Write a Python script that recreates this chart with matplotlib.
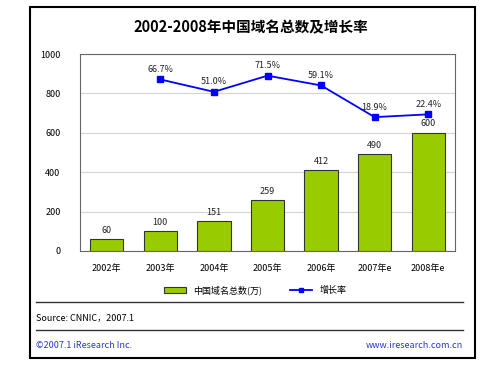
import matplotlib
matplotlib.use('Agg')
import matplotlib.pyplot as plt
from matplotlib.patches import Rectangle
from matplotlib.lines import Line2D

plt.rcParams['font.family'] = ['Noto Sans CJK SC', 'DejaVu Sans']

years = ['2002年', '2003年', '2004年', '2005年', '2006年', '2007年e', '2008年e']
domains = [60, 100, 151, 259, 412, 490, 600]
growth_years = [1, 2, 3, 4, 5, 6]
growth = [66.7, 51.0, 71.5, 59.1, 18.9, 22.4]

W, H = 500, 378
fig = plt.figure(figsize=(W / 100, H / 100), dpi=100)

def fx(px):
    return px / W

def fy(py):
    return 1 - py / H

# outer frame
fig.patches.append(Rectangle((fx(30), fy(358)), fx(445), 351 / H, transform=fig.transFigure,
                             fill=False, edgecolor='black', linewidth=1.5))

fig.text(fx(251), fy(27), '2002-2008年中国域名总数及增长率', ha='center', va='center',
         fontsize=10.5, fontweight='bold')

ax = fig.add_axes([fx(80), fy(251), fx(375), (251 - 54) / H])
x = range(len(years))
bars = ax.bar(x, domains, width=0.62, color='#99CC00', edgecolor='#333333', linewidth=0.8, zorder=3)
for xi, v in zip(x, domains):
    ax.text(xi, v + 22, str(v), ha='center', va='bottom', fontsize=6.5, color='#222222')

ax.set_xlim(-0.5, 6.5)
ax.set_ylim(0, 1000)
ax.set_yticks(range(0, 1001, 200))
ax.tick_params(axis='y', labelsize=6.5, length=0, pad=14)
ax.set_xticks(list(x))
ax.set_xticklabels(years, fontsize=6.5)
ax.tick_params(axis='x', length=0, pad=9)
ax.grid(True, axis='y', color='#d4d4d4', linewidth=0.8, zorder=0)
for s in ax.spines.values():
    s.set_color('#666666')
    s.set_linewidth(0.8)

ax2 = ax.twinx()
ax2.plot(growth_years, growth, color='#0000FF', linewidth=1.3, marker='s', markersize=4, zorder=4)
for xi, g in zip(growth_years, growth):
    ax2.text(xi, g + 7, f'{g:.1f}%', ha='center', va='bottom', fontsize=6.5, color='#222222')
ax2.set_ylim(-151, 99)
ax2.set_yticks([])
for s in ax2.spines.values():
    s.set_visible(False)

handles = [Rectangle((0, 0), 1, 1, facecolor='#99CC00', edgecolor='#333333', linewidth=0.8),
           Line2D([0], [0], color='#0000FF', linewidth=1.3, marker='s', markersize=3)]
fig.legend(handles, ['中国域名总数(万)', '增长率'], loc='center', bbox_to_anchor=(fx(255), fy(290)),
           ncol=2, frameon=False, fontsize=6.5, handlelength=2.5, columnspacing=3)

for py in (302, 330):
    fig.add_artist(Line2D([fx(36), fx(463)], [fy(py), fy(py)], transform=fig.transFigure,
                          color='#333333', linewidth=1))

fig.text(fx(36), fy(318), 'Source: CNNIC，2007.1', ha='left', va='center', fontsize=6.5)
fig.text(fx(36), fy(346), '©2007.1 iResearch Inc.', ha='left', va='center', fontsize=6.5, color='#2a3acc')
fig.text(fx(463), fy(346), 'www.iresearch.com.cn', ha='right', va='center', fontsize=6.5, color='#2a3acc')

fig.savefig('out.png', dpi=100)
